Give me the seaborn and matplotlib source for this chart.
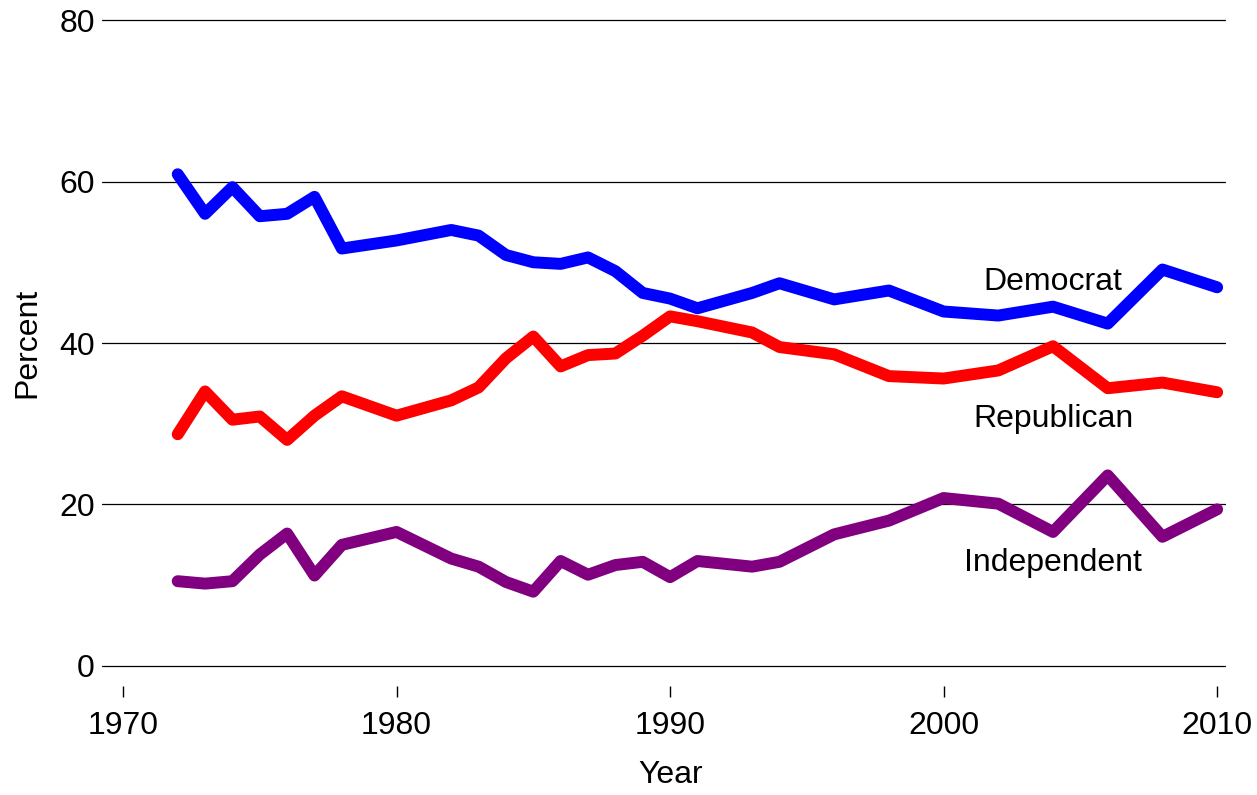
import matplotlib
matplotlib.use("Agg")
import matplotlib.pyplot as plt
import pandas as pd
import seaborn as sns

# GSS survey years
years = [1972, 1973, 1974, 1975, 1976, 1977, 1978, 1980, 1982, 1983, 1984,
         1985, 1986, 1987, 1988, 1989, 1990, 1991, 1993, 1994, 1996, 1998,
         2000, 2002, 2004, 2006, 2008, 2010]

# Party identification, percent
democrat = [60.9, 56.0, 59.3, 55.7, 56.0, 58.1, 51.7, 52.7, 54.0, 53.3, 50.9,
            50.0, 49.8, 50.6, 48.9, 46.2, 45.5, 44.3, 46.2, 47.4, 45.4, 46.5,
            43.9, 43.4, 44.5, 42.4, 49.1, 46.9]
republican = [28.7, 34.0, 30.5, 30.9, 28.0, 31.0, 33.4, 31.0, 32.9, 34.5, 38.1,
              40.8, 37.1, 38.5, 38.7, 40.9, 43.3, 42.7, 41.3, 39.5, 38.6, 35.9,
              35.6, 36.6, 39.6, 34.4, 35.1, 33.9]
independent = [10.5, 10.2, 10.5, 13.8, 16.4, 11.2, 15.0, 16.6, 13.3, 12.3, 10.4,
               9.2, 13.0, 11.3, 12.5, 12.9, 11.0, 13.0, 12.3, 12.9, 16.3, 18.0,
               20.8, 20.1, 16.6, 23.6, 16.0, 19.4]

parties = ["Democrat", "Republican", "Independent"]
colours = ["#0000ff", "#ff0000", "#800080"]

# long format for seaborn
df = pd.DataFrame({
    "Year": years * 3,
    "Percent": democrat + republican + independent,
    "Party": [p for p in parties for _ in years],
})

sns.set_theme(style="white")
plt.rcParams["font.family"] = ["Liberation Sans", "DejaVu Sans"]
plt.rcParams["text.color"] = "black"
plt.rcParams["axes.labelcolor"] = "black"
plt.rcParams["xtick.color"] = "black"
plt.rcParams["ytick.color"] = "black"

fs = 23

fig = plt.figure(figsize=(12.57, 7.95), dpi=100)
ax = fig.add_axes([0.0811, 0.1623, 0.8935, 0.8125])

# horizontal reference lines
for yv in [0, 20, 40, 60, 80]:
    ax.axhline(yv, color="black", lw=0.9, zorder=1, clip_on=False)

sns.lineplot(data=df, x="Year", y="Percent", hue="Party", hue_order=parties,
             palette=colours, lw=8.6, legend=False, ax=ax, zorder=3,
             solid_capstyle="round", solid_joinstyle="round", clip_on=False)

# direct labels instead of a legend
ax.text(2004, 47.5, "Democrat", ha="center", va="center", fontsize=fs)
ax.text(2004, 30.6, "Republican", ha="center", va="center", fontsize=fs)
ax.text(2004, 12.7, "Independent", ha="center", va="center", fontsize=fs)

ax.set_xlim(1969.23, 2010.29)
ax.set_ylim(0, 80)
ax.set_xticks([1970, 1980, 1990, 2000, 2010])
ax.set_yticks([0, 20, 40, 60, 80])

for s in ax.spines.values():
    s.set_visible(False)
ax.spines["bottom"].set_position(("outward", 14.4))

ax.tick_params(axis="x", bottom=True, direction="out", length=8, width=1,
               color="black", pad=10, labelsize=fs)
ax.tick_params(axis="y", left=False, length=0, pad=5, labelsize=fs)

ax.set_xlabel("Year", fontsize=fs, labelpad=16)
ax.set_ylabel("Percent", fontsize=fs, labelpad=12)
ax.xaxis.set_label_coords(0.506, -0.145)

fig.savefig("out.png", dpi=100)
